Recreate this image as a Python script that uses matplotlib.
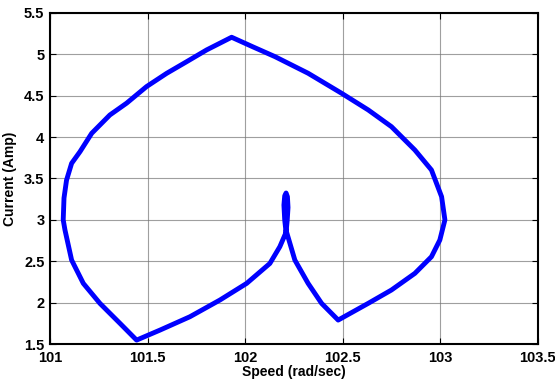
import numpy as np
from matplotlib import pyplot as plt

# traced path of the speed/current trajectory (starts at the centre loop)
speed = [102.21, 102.203, 102.199, 102.203, 102.21, 102.217, 102.22, 102.216, 102.21,
         102.178, 102.127, 102.008, 101.871, 101.717, 101.564, 101.444,
         101.359, 101.256, 101.171, 101.111, 101.077, 101.068,
         101.072, 101.085, 101.111, 101.154, 101.214, 101.307, 101.393, 101.495,
         101.598, 101.70, 101.803, 101.931,
         102.04, 102.153, 102.323, 102.494, 102.631, 102.75, 102.87, 102.955, 103.007,
         103.024, 102.998, 102.955, 102.87, 102.75, 102.631, 102.477,
         102.392, 102.323, 102.255, 102.213]
current = [2.85, 3.0, 3.18, 3.29, 3.325, 3.28, 3.15, 3.0, 2.85,
           2.676, 2.474, 2.233, 2.032, 1.83, 1.669, 1.548,
           1.75, 1.992, 2.233, 2.515, 2.878, 3.0,
           3.264, 3.48, 3.683, 3.824, 4.046, 4.267, 4.41, 4.61,
           4.77, 4.91, 5.053, 5.206,
           5.09, 4.972, 4.771, 4.53, 4.328, 4.126, 3.844, 3.603, 3.28,
           3.0, 2.757, 2.555, 2.354, 2.153, 1.992, 1.79,
           1.992, 2.233, 2.515, 2.85]

xticks = [101, 101.5, 102, 102.5, 103, 103.5]
yticks = [1.5, 2, 2.5, 3, 3.5, 4, 4.5, 5, 5.5]

plt.rcParams['font.family'] = ['Liberation Sans', 'DejaVu Sans']
plt.rcParams['font.weight'] = 'bold'

fig = plt.figure(figsize=(5.55, 3.91), dpi=100)
ax = fig.add_axes([0.090, 0.120, 0.879, 0.847])

ax.plot(speed, current, color='#0000ff', linewidth=3.5, solid_joinstyle='round')

ax.set_xlim(101, 103.5)
ax.set_ylim(1.5, 5.5)
ax.set_xticks(xticks)
ax.set_yticks(yticks)
ax.set_xticklabels([('%g' % v) for v in xticks], fontweight='bold')
ax.set_yticklabels([('%g' % v) for v in yticks], fontweight='bold')
ax.tick_params(direction='in', top=True, right=True, length=4, labelsize=10.5)
ax.tick_params(axis='x', pad=5)
ax.tick_params(axis='y', pad=4)
ax.grid(True, color='#777777', linewidth=0.8, linestyle='-', alpha=0.7)
for s in ax.spines.values():
    s.set_linewidth(1.5)

ax.set_xlabel("Speed (rad/sec)", fontweight='bold', fontsize=10, labelpad=0)
ax.set_ylabel("Current (Amp)", fontweight='bold', fontsize=10, labelpad=5)

fig.savefig("out.png", dpi=100)
